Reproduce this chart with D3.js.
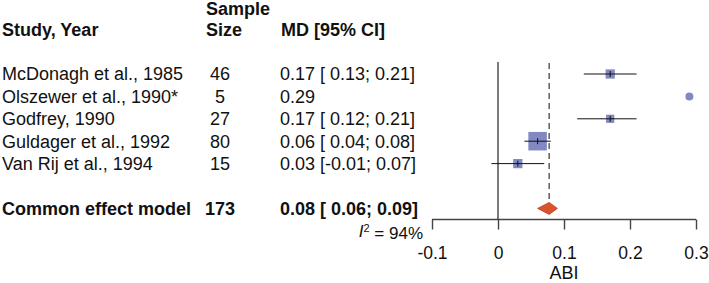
<!DOCTYPE html>
<html>
<head>
<meta charset="utf-8">
<script src="https://cdn.jsdelivr.net/npm/d3@7"></script>
<style>
  body { margin: 0; background: #fff; }
  svg { display: block; font-family: "Liberation Sans", Arial, sans-serif; }
</style>
</head>
<body>
<div id="container"></div>
<script>
// ---------- DATA ----------
const studies = ['McDonagh et al., 1985', 'Olszewer et al., 1990*', 'Godfrey, 1990', 'Guldager et al., 1992', 'Van Rij et al., 1994'];
const sampleSizes = [46, 5, 27, 80, 15];
const md = [0.17, 0.29, 0.17, 0.06, 0.03];
const lower = [0.13, null, 0.12, 0.04, -0.01];
const upper = [0.21, null, 0.21, 0.08, 0.07];
const weights = [14.7, null, 11.6, 58.9, 14.7];
const mdLabels = ['0.17 [ 0.13; 0.21]', '0.29', '0.17 [ 0.12; 0.21]', '0.06 [ 0.04; 0.08]', '0.03 [-0.01; 0.07]'];

const pooled = { label: 'Common effect model', n: 173, md: 0.0775, lower: 0.06, upper: 0.09, text: '0.08 [ 0.06; 0.09]' };
const i2 = '94%';
const xTicks = [-0.1, 0, 0.1, 0.2, 0.3];
const xLabel = 'ABI';

// ---------- LAYOUT ----------
const width = 709, height = 283;
const fontSize = 18;
const colStudy = 2, colN = 220, colMD = 280;
const boxColor = '#8188c2';
const diamondColor = '#d9532c';
const lineColor = '#444';

const svg = d3.select('#container').append('svg')
    .attr('width', width)
    .attr('height', height)
    .style('font-size', fontSize + 'px');

const x = d3.scaleLinear().domain([-0.1, 0.3]).range([432, 696]);
const y = d3.scaleLinear().domain([0, 1]).range([74, 96.4]);
const box = d3.scaleSqrt().domain([0, d3.max(weights)]).range([0, 18.5]);
const axisY = 219.5;

// ---------- HEADERS ----------
const header = svg.append('g').attr('font-weight', 'bold').attr('fill', '#111');
header.append('text').attr('x', colStudy).attr('y', y(-2)).attr('dy', '0.35em').text('Study, Year');
header.append('text').attr('x', 206).attr('y', 9).attr('dy', '0.35em').text('Sample');
header.append('text').attr('x', 206).attr('y', y(-2)).attr('dy', '0.35em').text('Size');
header.append('text').attr('x', colMD + 1).attr('y', y(-2)).attr('dy', '0.35em').text('MD [95% CI]');

// ---------- STUDY ROWS ----------
const rows = svg.append('g').attr('fill', '#111');
studies.forEach((s, i) => {
    rows.append('text').attr('x', colStudy).attr('y', y(i)).attr('dy', '0.35em').text(s);
    rows.append('text').attr('x', colN).attr('y', y(i)).attr('dy', '0.35em')
        .attr('text-anchor', 'middle').text(sampleSizes[i]);
    rows.append('text').attr('x', colMD).attr('y', y(i)).attr('dy', '0.35em')
        .style('white-space', 'pre').attr('xml:space', 'preserve').text(mdLabels[i]);
});

// pooled row
const pr = svg.append('g').attr('font-weight', 'bold').attr('fill', '#111');
pr.append('text').attr('x', colStudy).attr('y', y(6)).attr('dy', '0.35em').text(pooled.label);
pr.append('text').attr('x', colN).attr('y', y(6)).attr('dy', '0.35em').attr('text-anchor', 'middle').text(pooled.n);
pr.append('text').attr('x', colMD).attr('y', y(6)).attr('dy', '0.35em')
    .style('white-space', 'pre').attr('xml:space', 'preserve').text(pooled.text);

// I^2
const het = svg.append('text').attr('x', 423).attr('y', y(7)).attr('dy', '0.35em')
    .attr('text-anchor', 'end').attr('fill', '#111').style('font-size', '17px');
het.append('tspan').attr('font-style', 'italic').text('I');
het.append('tspan').attr('dy', '-0.45em').style('font-size', '11px').text('2');
het.append('tspan').attr('dy', '0.45em').text(' = ' + i2);

// ---------- REFERENCE LINES ----------
svg.append('line')
    .attr('x1', x(0)).attr('x2', x(0))
    .attr('y1', 62).attr('y2', axisY)
    .attr('stroke', lineColor).attr('stroke-width', 1.4);

svg.append('line')
    .attr('x1', x(pooled.md)).attr('x2', x(pooled.md))
    .attr('y1', 63).attr('y2', y(6) - 6)
    .attr('stroke', lineColor).attr('stroke-width', 1.3)
    .attr('stroke-dasharray', '6,4');

// ---------- CI LINES & BOXES ----------
const marks = svg.append('g');
studies.forEach((s, i) => {
    const cy = y(i);
    if (lower[i] == null) {
        marks.append('circle')
            .attr('cx', x(md[i])).attr('cy', cy).attr('r', 4)
            .attr('fill', boxColor);
        return;
    }
    const sz = box(weights[i]);
    marks.append('rect')
        .attr('x', x(md[i]) - sz / 2).attr('y', cy - sz / 2)
        .attr('width', sz).attr('height', sz)
        .attr('fill', boxColor);
    marks.append('line')
        .attr('x1', x(lower[i])).attr('x2', x(upper[i]))
        .attr('y1', cy).attr('y2', cy)
        .attr('stroke', '#111').attr('stroke-width', 1);
    marks.append('line')
        .attr('x1', x(md[i])).attr('x2', x(md[i]))
        .attr('y1', cy - 3).attr('y2', cy + 3)
        .attr('stroke', '#111').attr('stroke-width', 1);
});

// pooled diamond
const dy0 = y(6), dh = 6;
svg.append('path')
    .attr('d', `M${x(pooled.lower)},${dy0} L${x(pooled.md)},${dy0 - dh} L${x(pooled.upper)},${dy0} L${x(pooled.md)},${dy0 + dh} Z`)
    .attr('fill', diamondColor)
    .attr('stroke', '#b8401f').attr('stroke-width', 0.8);

// ---------- AXIS ----------
const axis = svg.append('g')
    .attr('transform', `translate(0,${axisY})`)
    .call(d3.axisBottom(x).tickValues(xTicks).tickFormat(d => String(d)).tickSize(10).tickPadding(17));
axis.select('.domain').attr('stroke', lineColor).attr('stroke-width', 1.4)
    .attr('d', `M${x(-0.1)},0H${x(0.3)}`);
axis.selectAll('.tick line').attr('stroke', lineColor).attr('stroke-width', 1.4);
axis.selectAll('.tick text')
    .attr('fill', '#111')
    .style('font-size', '17.5px')
    .style('font-family', '"Liberation Sans", Arial, sans-serif');

svg.append('text')
    .attr('x', (x(-0.1) + x(0.3)) / 2).attr('y', 273).attr('dy', '0.35em')
    .attr('text-anchor', 'middle').attr('fill', '#111')
    .text(xLabel);
</script>
</body>
</html>
